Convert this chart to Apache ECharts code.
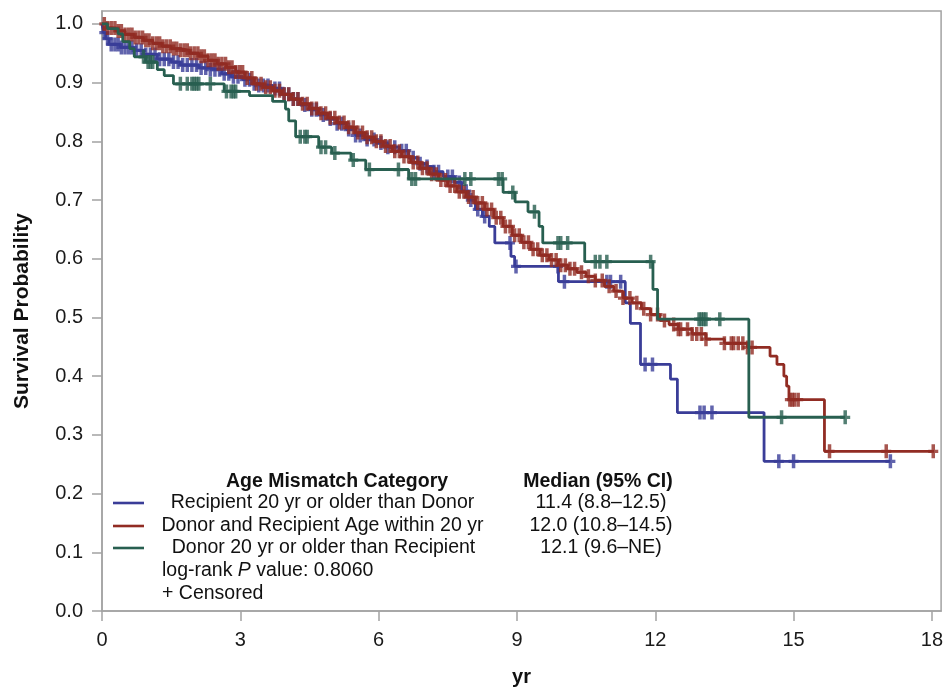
<!DOCTYPE html>
<html>
<head>
<meta charset="utf-8">
<script src="https://cdn.jsdelivr.net/npm/echarts@6/dist/echarts.min.js"></script>
<style>
html,body{margin:0;padding:0;background:#fff;}
#chart{width:946px;height:692px;}
</style>
</head>
<body>
<div id="chart"></div>
<script>
// ---- Data ----
const xTicks = [0, 3, 6, 9, 12, 15, 18];
const yTicks = [0, 0.1, 0.2, 0.3, 0.4, 0.5, 0.6, 0.7, 0.8, 0.9, 1.0];

const legendTitle = "Age Mismatch Category";
const medianTitle = "Median (95% CI)";
const groupNames = [
  "Recipient 20 yr or older than Donor",
  "Donor and Recipient Age within 20 yr",
  "Donor 20 yr or older than Recipient"
];
const medians = ["11.4 (8.8\u201312.5)", "12.0 (10.8\u201314.5)", "12.1 (9.6\u2013NE)"];
const pValueText = "0.8060";

// Recipient 20 yr or older than Donor (blue)
const blueT = [0, 0.03, 0.08, 0.15, 0.4, 0.7, 0.9, 1.2, 1.5, 1.7, 2.1, 2.3, 2.6, 2.8, 3.05, 3.25, 3.4, 3.7, 3.9, 4.1, 4.3, 4.5, 4.7, 4.9, 5.1, 5.3, 5.5, 5.7, 5.95, 6.2, 6.45, 6.65, 6.85, 7.05, 7.2, 7.4, 7.65, 7.8, 7.95, 8.1, 8.25, 8.4, 8.52, 8.87, 8.95, 9.9, 11.35, 11.46, 11.68, 12.33, 12.48, 14.36];
const blueS = [1.0, 0.985, 0.975, 0.965, 0.96, 0.955, 0.948, 0.94, 0.935, 0.93, 0.925, 0.922, 0.915, 0.91, 0.905, 0.898, 0.895, 0.89, 0.88, 0.872, 0.862, 0.854, 0.845, 0.838, 0.83, 0.82, 0.81, 0.803, 0.797, 0.79, 0.784, 0.772, 0.762, 0.757, 0.748, 0.74, 0.73, 0.715, 0.70, 0.684, 0.672, 0.655, 0.627, 0.604, 0.587, 0.561, 0.525, 0.49, 0.42, 0.395, 0.338, 0.255];
const blueEnd = 17.1;
const blueCensor = [0.05, 0.12, 0.2, 0.28, 0.35, 0.42, 0.5, 0.58, 0.65, 0.75, 0.85, 0.95, 1.05, 1.15, 1.25, 1.35, 1.45, 1.55, 1.65, 1.75, 1.85, 1.95, 2.05, 2.15, 2.25, 2.35, 2.45, 2.55, 2.65, 2.75, 2.85, 2.95, 3.1, 3.2, 3.3, 3.4, 3.5, 3.6, 3.75, 3.85, 3.95, 4.05, 4.15, 4.25, 4.4, 4.55, 4.65, 4.8, 4.95, 5.1, 5.2, 5.35, 5.5, 5.6, 5.75, 5.9, 6.05, 6.2, 6.35, 6.5, 6.6, 6.75, 6.9, 7.05, 7.2, 7.3, 7.5, 7.6, 7.75, 7.9, 8.0, 8.15, 8.3, 8.85, 8.98, 9.89, 10.03, 10.95, 11.03, 11.25, 11.78, 11.94, 12.97, 13.06, 13.23, 14.68, 15.0, 17.1];

// Donor and Recipient Age within 20 yr (red)
const redT = [0, 0.1, 0.3, 0.5, 0.7, 0.9, 1.1, 1.3, 1.5, 1.7, 1.9, 2.1, 2.3, 2.5, 2.7, 2.9, 3.1, 3.3, 3.5, 3.7, 3.9, 4.1, 4.3, 4.5, 4.7, 4.9, 5.1, 5.3, 5.5, 5.7, 5.9, 6.1, 6.3, 6.5, 6.7, 6.9, 7.1, 7.3, 7.5, 7.7, 7.9, 8.1, 8.3, 8.5, 8.7, 8.9, 9.1, 9.3, 9.5, 9.7, 9.9, 10.1, 10.3, 10.5, 10.7, 10.9, 11.1, 11.3, 11.5, 11.7, 11.9, 12.1, 12.3, 12.5, 12.8, 13.1, 13.5, 14.0, 14.49, 14.64, 14.79, 14.85, 14.9, 15.67];
const redS = [1.0, 0.993, 0.988, 0.982, 0.977, 0.972, 0.967, 0.962, 0.958, 0.955, 0.95, 0.945, 0.938, 0.932, 0.926, 0.918, 0.908, 0.898, 0.892, 0.886, 0.88, 0.872, 0.864, 0.856, 0.848, 0.84, 0.832, 0.824, 0.815, 0.807, 0.80, 0.792, 0.783, 0.774, 0.764, 0.754, 0.744, 0.734, 0.724, 0.714, 0.705, 0.695, 0.684, 0.67, 0.655, 0.64, 0.628, 0.616, 0.606, 0.598, 0.589, 0.583, 0.577, 0.57, 0.563, 0.553, 0.545, 0.533, 0.525, 0.515, 0.505, 0.495, 0.488, 0.48, 0.472, 0.463, 0.456, 0.449, 0.434, 0.42, 0.40, 0.383, 0.36, 0.272];
const redEnd = 18.05;
const redCensor = [0.05, 0.12, 0.2, 0.28, 0.35, 0.42, 0.5, 0.58, 0.65, 0.72, 0.8, 0.88, 0.95, 1.02, 1.1, 1.18, 1.25, 1.32, 1.4, 1.48, 1.55, 1.62, 1.7, 1.78, 1.85, 1.92, 2.0, 2.08, 2.15, 2.22, 2.3, 2.38, 2.45, 2.52, 2.6, 2.68, 2.75, 2.82, 2.9, 2.98, 3.05, 3.15, 3.25, 3.35, 3.45, 3.55, 3.65, 3.75, 3.85, 3.95, 4.05, 4.15, 4.25, 4.35, 4.45, 4.55, 4.65, 4.75, 4.85, 4.95, 5.05, 5.15, 5.25, 5.35, 5.45, 5.55, 5.65, 5.75, 5.85, 5.95, 6.05, 6.15, 6.25, 6.35, 6.45, 6.55, 6.65, 6.75, 6.85, 6.95, 7.05, 7.15, 7.25, 7.35, 7.45, 7.55, 7.65, 7.75, 7.85, 7.95, 8.05, 8.15, 8.25, 8.35, 8.45, 8.55, 8.65, 8.75, 8.85, 8.95, 9.05, 9.15, 9.25, 9.35, 9.45, 9.55, 9.65, 9.75, 9.85, 9.95, 10.05, 10.15, 10.25, 10.4, 10.55, 10.7, 10.85, 11.0, 11.15, 11.3, 11.45, 11.6, 11.75, 11.9, 12.05, 12.2, 12.4, 12.5, 12.55, 12.7, 12.8, 12.9, 13.0, 13.1, 13.5, 13.65, 13.7, 13.8, 13.9, 14.0, 14.1, 14.92, 14.97, 15.02, 15.1, 15.78, 17.01, 18.03];

// Donor 20 yr or older than Recipient (green)
const greenT = [0, 0.12, 0.35, 0.45, 0.6, 0.7, 0.95, 1.2, 1.35, 1.55, 2.65, 3.2, 3.7, 3.98, 4.05, 4.2, 4.7, 4.98, 5.4, 5.72, 6.65, 8.70, 8.96, 9.24, 9.48, 9.56, 10.47, 11.95, 12.05, 14.03];
const greenS = [1.0, 0.992, 0.983, 0.97, 0.958, 0.944, 0.935, 0.922, 0.912, 0.898, 0.885, 0.878, 0.868, 0.855, 0.835, 0.808, 0.79, 0.78, 0.768, 0.752, 0.736, 0.713, 0.697, 0.68, 0.655, 0.627, 0.595, 0.548, 0.497, 0.33];
const greenEnd = 16.12;
const greenCensor = [0.9, 1.0, 1.05, 1.1, 1.7, 1.85, 1.95, 2.0, 2.05, 2.1, 2.35, 2.7, 2.8, 2.85, 2.9, 4.3, 4.4, 4.45, 4.75, 4.85, 5.05, 5.45, 5.8, 6.43, 6.72, 6.8, 7.87, 8.0, 8.6, 8.68, 8.91, 9.38, 9.89, 9.95, 10.1, 10.7, 10.8, 10.95, 11.9, 12.95, 13.0, 13.05, 13.1, 13.4, 14.74, 16.12];

// ---- Build ----
const colors = ["#3a3d98", "#912c23", "#285f50"];
const FONT = "'Liberation Sans', Arial, Helvetica, sans-serif";
const LEG = '19.5px ' + FONT;
const LEGB = 'bold 19.5px ' + FONT;

function stepVal(T, S, t) {
  let v = S[0];
  for (let i = 0; i < T.length; i++) { if (T[i] <= t + 1e-9) v = S[i]; else break; }
  return v;
}
function curve(T, S, end) {
  const d = T.map((t, i) => [t, S[i]]);
  d.push([end, S[S.length - 1]]);
  return d;
}
function censors(T, S, C) { return C.map(t => [t, stepVal(T, S, t)]); }

const plusPath = 'path://M-1.4,-6 L1.4,-6 L1.4,-1.4 L4,-1.4 L4,1.4 L1.4,1.4 L1.4,6 L-1.4,6 L-1.4,1.4 L-4,1.4 L-4,-1.4 L-1.4,-1.4 Z';

const groups = [
  [blueT, blueS, blueEnd, blueCensor],
  [redT, redS, redEnd, redCensor],
  [greenT, greenS, greenEnd, greenCensor]
];
const series = [];
groups.forEach((g, i) => {
  series.push({
    type: 'line', step: 'end', showSymbol: false, silent: true,
    data: curve(g[0], g[1], g[2]),
    lineStyle: { color: colors[i], width: 2.8 },
    z: 2 + i, animation: false
  });
  series.push({
    type: 'scatter', silent: true,
    data: censors(g[0], g[1], g[3]),
    symbol: plusPath, symbolKeepAspect: false, symbolSize: [10, 14],
    itemStyle: { color: colors[i] },
    z: 2 + i, animation: false
  });
});

const axisGray = '#a3a3a3';
const legendY = [503, 526, 548];
const graphic = [
  { type: 'text', x: 337, y: 482, style: { text: legendTitle, font: LEGB, fill: '#111', align: 'center', verticalAlign: 'middle' } },
  { type: 'text', x: 598, y: 482, style: { text: medianTitle, font: LEGB, fill: '#111', align: 'center', verticalAlign: 'middle' } }
];
const textCenters = [322.5, 322.5, 323.5];
groupNames.forEach((n, i) => {
  graphic.push({ type: 'line', shape: { x1: 113, y1: legendY[i], x2: 144, y2: legendY[i] }, style: { stroke: colors[i], lineWidth: 2.6 } });
  graphic.push({ type: 'text', x: textCenters[i], y: legendY[i], style: { text: n, font: LEG, fill: '#111', align: 'center', verticalAlign: 'middle' } });
  graphic.push({ type: 'text', x: 601, y: legendY[i], style: { text: medians[i], font: LEG, fill: '#111', align: 'center', verticalAlign: 'middle' } });
});
graphic.push({ type: 'text', x: 162, y: 571, style: { rich: { a: { font: LEG, fill: '#111' }, b: { font: 'italic ' + LEG, fill: '#111' } }, text: '{a|log-rank }{b|P}{a| value: ' + pValueText + '}', verticalAlign: 'middle' } });
graphic.push({ type: 'text', x: 162, y: 594, style: { text: '+ Censored', font: LEG, fill: '#111', verticalAlign: 'middle' } });

const chart = echarts.init(document.getElementById('chart'), null, { renderer: 'canvas' });
chart.setOption({
  animation: false,
  backgroundColor: '#fff',
  grid: { left: 102, right: 2, top: 11, bottom: 80, show: true, borderColor: axisGray, borderWidth: 1.5, backgroundColor: 'transparent' },
  xAxis: {
    type: 'value', min: 0, max: 18.2,
    name: 'yr', nameLocation: 'middle', nameGap: 56,
    nameTextStyle: { fontFamily: FONT, fontWeight: 'bold', fontSize: 20, color: '#111' },
    axisLine: { lineStyle: { color: axisGray, width: 1.5 } },
    axisTick: { customValues: xTicks, length: 10, lineStyle: { color: axisGray, width: 1.5 } },
    axisLabel: { customValues: xTicks, fontFamily: FONT, fontSize: 20, color: '#1a1a1a', margin: 19 },
    splitLine: { show: false }
  },
  yAxis: {
    type: 'value', min: 0, max: 1.022,
    name: 'Survival Probability', nameLocation: 'middle', nameGap: 69, nameRotate: 90,
    nameTextStyle: { fontFamily: FONT, fontWeight: 'bold', fontSize: 21, color: '#111' },
    axisLine: { show: true, lineStyle: { color: axisGray, width: 1.5 } },
    axisTick: { show: true, customValues: yTicks, length: 10, lineStyle: { color: axisGray, width: 1.5 } },
    axisLabel: { customValues: yTicks, fontFamily: FONT, fontSize: 20, color: '#1a1a1a', margin: 19, formatter: v => v.toFixed(1) },
    splitLine: { show: false }
  },
  series: series,
  graphic: graphic
});
</script>
</body>
</html>
